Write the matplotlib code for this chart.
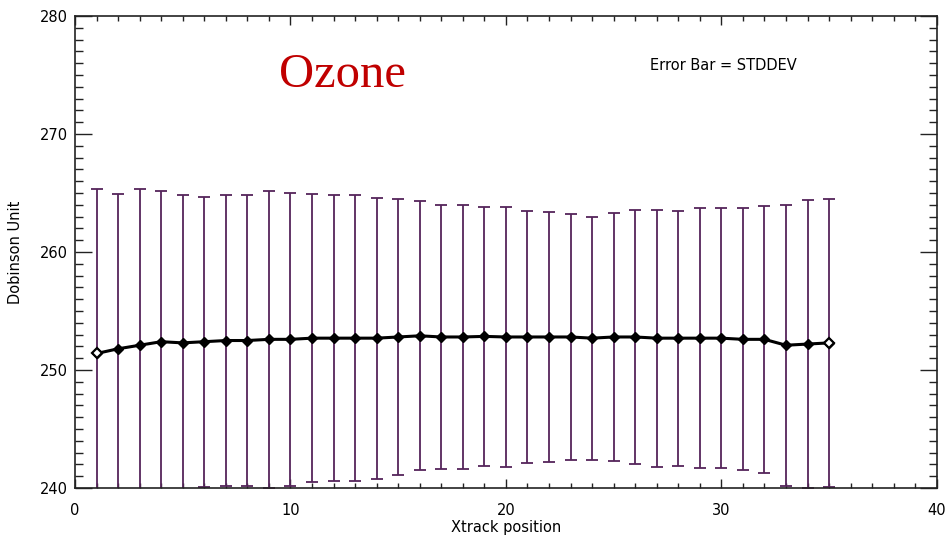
#!/usr/bin/env python3
"""Ozone mean vs cross-track position, error bars = one standard deviation."""

import matplotlib
matplotlib.use("Agg")
import matplotlib.pyplot as plt  # noqa: E402
from matplotlib.ticker import MultipleLocator  # noqa: E402

xtrack = list(range(1, 36))
ozone_mean = [251.4, 251.8, 252.1, 252.4, 252.3, 252.4, 252.5, 252.5, 252.6, 252.6,
              252.7, 252.7, 252.7, 252.7, 252.8, 252.9, 252.8, 252.8, 252.85, 252.8,
              252.8, 252.8, 252.8, 252.7, 252.8, 252.8, 252.7, 252.7, 252.7, 252.7,
              252.6, 252.6, 252.1, 252.2, 252.3]
ozone_std = [13.9, 13.1, 13.2, 12.8, 12.5, 12.3, 12.3, 12.3, 12.6, 12.4,
             12.2, 12.1, 12.1, 11.9, 11.7, 11.4, 11.2, 11.2, 10.95, 11.0,
             10.7, 10.6, 10.4, 10.3, 10.5, 10.8, 10.9, 10.8, 11.0, 11.0,
             11.1, 11.3, 11.9, 12.2, 12.2]

fig = plt.figure(figsize=(9.53, 5.37), dpi=100)
ax = fig.add_axes([0.0787, 0.0912, 0.9043, 0.8790])

ax.errorbar(xtrack, ozone_mean, yerr=ozone_std, fmt="none", ecolor="#55245a",
            elinewidth=1.3, capsize=4.5, capthick=1.3, zorder=2)
ax.plot(xtrack, ozone_mean, color="black", lw=2.2, marker="D", ms=5.5,
        mfc="black", mec="black", zorder=3)
# end points look open in the original
ax.plot([xtrack[0], xtrack[-1]], [ozone_mean[0], ozone_mean[-1]], ls="none",
        marker="D", ms=5, mfc="white", mec="black", mew=1.6, zorder=4)

ax.set_xlim(0, 40)
ax.set_ylim(240, 280)
ax.xaxis.set_major_locator(MultipleLocator(10))
ax.xaxis.set_minor_locator(MultipleLocator(1))
ax.yaxis.set_major_locator(MultipleLocator(10))
ax.yaxis.set_minor_locator(MultipleLocator(1))
ax.tick_params(axis="both", which="both", direction="in", top=True, right=True,
               labelsize=10.5, width=1, color="#222222")
ax.tick_params(axis="x", which="major", length=6.8, pad=11)
ax.tick_params(axis="x", which="minor", length=3.4)
ax.tick_params(axis="y", which="major", length=12.4, pad=5)
ax.tick_params(axis="y", which="minor", length=5.9)
for s in ax.spines.values():
    s.set_linewidth(1.2)
    s.set_color("#222222")

ax.set_ylabel("Dobinson Unit", fontsize=10.5, labelpad=12)
fig.text(0.531, 0.003, "Xtrack position", ha="center", va="bottom", fontsize=10.5)

ax.text(0.31, 0.875, "Ozone", transform=ax.transAxes, ha="center", va="center",
        fontsize=35, family="Liberation Serif", color="#c00000")
ax.text(0.752, 0.895, "Error Bar = STDDEV", transform=ax.transAxes, ha="center",
        va="center", fontsize=10.5)

fig.savefig("out.png", dpi=100)
